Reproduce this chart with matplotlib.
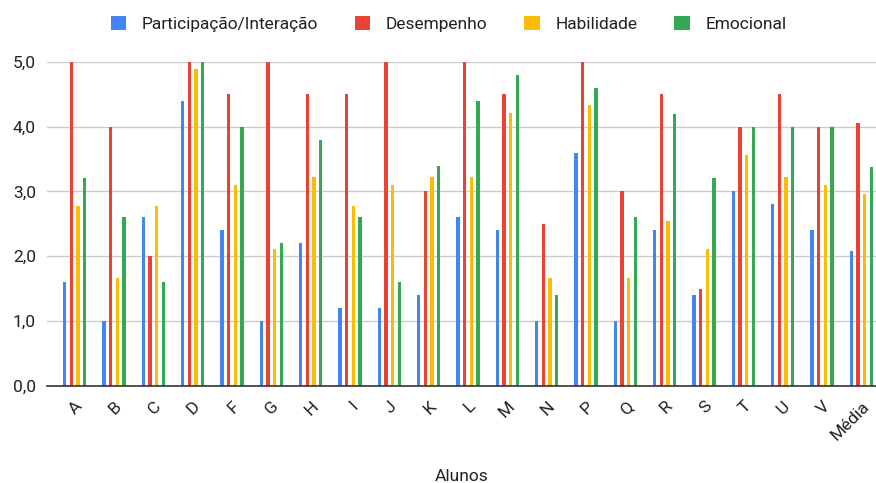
import matplotlib.pyplot as plt
import numpy as np
from matplotlib.ticker import FuncFormatter

plt.rcParams['font.family'] = ['Roboto', 'DejaVu Sans']

alunos = ["A", "B", "C", "D", "F", "G", "H", "I", "J", "K", "L", "M",
          "N", "P", "Q", "R", "S", "T", "U", "V", "Média"]

participacao = [1.6, 1.0, 2.6, 4.4, 2.4, 1.0, 2.2, 1.2, 1.2, 1.4, 2.6, 2.4,
                1.0, 3.6, 1.0, 2.4, 1.4, 3.0, 2.8, 2.4, 2.08]
desempenho = [5.0, 4.0, 2.0, 5.0, 4.5, 5.0, 4.5, 4.5, 5.0, 3.0, 5.0, 4.5,
              2.5, 5.0, 3.0, 4.5, 1.5, 4.0, 4.5, 4.0, 4.05]
habilidade = [2.77, 1.66, 2.77, 4.89, 3.1, 2.11, 3.23, 2.77, 3.1, 3.23, 3.23, 4.21,
              1.66, 4.33, 1.66, 2.55, 2.11, 3.56, 3.23, 3.1, 2.96]
emocional = [3.2, 2.6, 1.6, 5.0, 4.0, 2.2, 3.8, 2.6, 1.6, 3.4, 4.4, 4.8,
             1.4, 4.6, 2.6, 4.2, 3.2, 4.0, 4.0, 4.0, 3.37]

series = [
    ("Participação/Interação", participacao, "#4285F4"),
    ("Desempenho", desempenho, "#EA4335"),
    ("Habilidade", habilidade, "#FBBC04"),
    ("Emocional", emocional, "#34A853"),
]

fig = plt.figure(figsize=(8.76, 4.83), dpi=100)
ax = fig.add_axes([0.0537, 0.201, 0.9475, 0.671])

x = np.arange(len(alunos))
offsets = [-0.255, -0.085, 0.085, 0.255]
for (name, vals, color), off in zip(series, offsets):
    ax.bar(x + off, vals, width=0.085, color=color, label=name, zorder=3)

ax.set_xlim(-0.7, len(alunos) - 0.6)
ax.set_ylim(0, 5)
ax.set_yticks([0, 1, 2, 3, 4, 5])
ax.yaxis.set_major_formatter(FuncFormatter(lambda v, p: f"{v:.1f}".replace(".", ",")))
ax.grid(axis="y", color="#cccccc", linewidth=1, zorder=0)
ax.set_axisbelow(True)

for s in ["top", "right", "left"]:
    ax.spines[s].set_visible(False)
ax.spines["bottom"].set_color("#333333")
ax.spines["bottom"].set_linewidth(1.2)
ax.spines["bottom"].set_zorder(4)
ax.tick_params(axis="both", length=0, labelsize=12.5, colors="#222222")
ax.tick_params(axis="y", pad=8)

ax.set_xticks(x)
ax.set_xticklabels(alunos, rotation=45, ha="right", rotation_mode="anchor")
ax.tick_params(axis="x", pad=9)

ax.set_xlabel("Alunos", fontsize=12.5, color="#222222", labelpad=19)

leg = fig.legend(loc="upper center", bbox_to_anchor=(0.512, 1.0), ncol=4, frameon=False,
                 fontsize=12.5, handlelength=0.9, handleheight=0.9,
                 columnspacing=2.1, handletextpad=0.9)
for t in leg.get_texts():
    t.set_color("#222222")

fig.savefig("out.png", dpi=100)
